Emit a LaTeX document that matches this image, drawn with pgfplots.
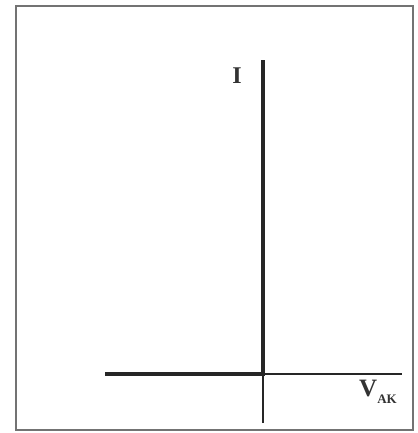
\documentclass[border=0pt]{standalone}
\usepackage{fontspec}
\setmainfont{Liberation Serif}
\usepackage{pgfplots}
\pgfplotsset{compat=1.18}

\begin{document}
\begin{tikzpicture}
\begin{axis}[scale only axis, width=198.5pt, height=212pt,
	xmin=-247, xmax=150, ymin=-56, ymax=368,
	ticks=none, axis line style={black!55, line width=0.6pt},
	clip=false]
	% thin axes
	\addplot[black!85, line width=0.8pt] coordinates {(-158,0) (139,0)};
	\addplot[black!85, line width=0.8pt] coordinates {(0,-49) (0,314)};
	% characteristic
	\addplot[black!85, line width=2pt, line join=miter] coordinates {(-158,0) (0,0) (0,314)};
	\node[font=\bfseries\fontsize{12}{13}\selectfont, text=black!80] at (axis cs:-26,298) {I};
	\node[font=\bfseries\fontsize{12.5}{13}\selectfont, text=black!80, anchor=base] at (axis cs:115,-23)
		{V\raisebox{-3.5pt}{\fontsize{6.5}{7}\selectfont AK}};
\end{axis}
\path ([shift={(-8pt,-1.5pt)}]current axis.south west) rectangle ([shift={(2pt,3pt)}]current axis.north east);
\end{tikzpicture}
\end{document}
